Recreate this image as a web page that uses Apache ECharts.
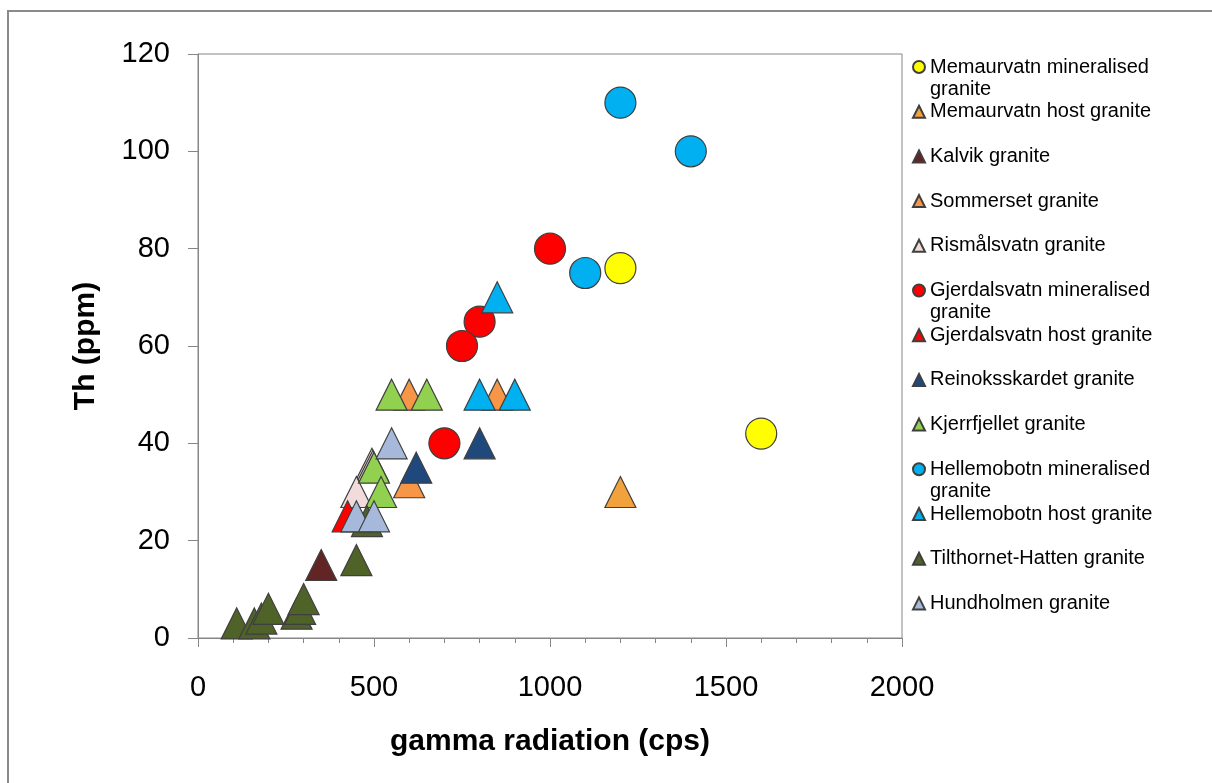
<!DOCTYPE html>
<html>
<head>
<meta charset="utf-8">
<title>Th vs gamma radiation</title>
<script src="https://cdn.jsdelivr.net/npm/echarts@6/dist/echarts.min.js"></script>
<style>
  html, body { margin: 0; padding: 0; background: #ffffff; }
  #chart { width: 1212px; height: 783px; }
</style>
</head>
<body>
<div id="chart"></div>
<script>
// ---- data: [gamma radiation (cps), Th (ppm)] per granite group ----
const groupNames = [
  'Memaurvatn mineralised granite',
  'Memaurvatn host granite',
  'Kalvik granite',
  'Sommerset granite',
  'Rismålsvatn granite',
  'Gjerdalsvatn mineralised granite',
  'Gjerdalsvatn host granite',
  'Reinoksskardet granite',
  'Kjerrfjellet granite',
  'Hellemobotn mineralised granite',
  'Hellemobotn host granite',
  'Tilthornet-Hatten granite',
  'Hundholmen granite'
];
const memaurvatnMineralised = [[1200, 76], [1600, 42]];
const memaurvatnHost = [[1200, 30]];
const kalvik = [[350, 15]];
const sommerset = [[600, 32], [600, 50], [850, 50]];
const rismalsvatn = [[494, 35.8], [497, 35.4], [450, 30]];
const gjerdalsvatnMineralised = [[1000, 80], [800, 65], [750, 60], [700, 40]];
const gjerdalsvatnHost = [[425, 25]];
const reinoksskardet = [[620, 35], [800, 40]];
const kjerrfjellet = [[500, 35], [520, 30], [550, 50], [650, 50]];
const hellemobotnMineralised = [[1200, 110], [1400, 100], [1100, 75]];
const hellemobotnHost = [[850, 70], [800, 50], [900, 50]];
const tilthornetHatten = [[110, 3], [160, 3], [180, 4], [200, 6], [280, 5], [290, 6], [300, 8], [450, 16], [480, 24]];
const hundholmen = [[550, 40], [450, 25], [500, 25]];

const groupData = [
  memaurvatnMineralised, memaurvatnHost, kalvik, sommerset, rismalsvatn,
  gjerdalsvatnMineralised, gjerdalsvatnHost, reinoksskardet, kjerrfjellet,
  hellemobotnMineralised, hellemobotnHost, tilthornetHatten, hundholmen
];

// tick values for both axes
const xTickValues = [0, 500, 1000, 1500, 2000];
const yTickValues = [0, 20, 40, 60, 80, 100, 120];

// ---- marker styles ----
const groupStyle = [
  { symbol: 'circle',   color: '#FFFF00' },
  { symbol: 'triangle', color: '#F2A23C' },
  { symbol: 'triangle', color: '#632523' },
  { symbol: 'triangle', color: '#F79646' },
  { symbol: 'triangle', color: '#F2DCDB' },
  { symbol: 'circle',   color: '#FF0000' },
  { symbol: 'triangle', color: '#FF0000' },
  { symbol: 'triangle', color: '#1F497D' },
  { symbol: 'triangle', color: '#92D050' },
  { symbol: 'circle',   color: '#00B0F0' },
  { symbol: 'triangle', color: '#00B0F0' },
  { symbol: 'triangle', color: '#4F6228' },
  { symbol: 'triangle', color: '#A7B9DA' }
];

const FONT = '"Liberation Sans", Arial, sans-serif';
const AXIS_GRAY = '#868686';

const series = groupNames.map((name, i) => ({
  name: name,
  type: 'scatter',
  data: groupData[i],
  symbol: groupStyle[i].symbol,
  symbolSize: 31,
  itemStyle: { color: groupStyle[i].color, borderColor: '#3f3f3f', borderWidth: 1.2, opacity: 1 },
  emphasis: { disabled: true }
}));

// legend labels: long names wrap after "mineralised"; every label is padded to
// three lines so the marker sits beside the first line of text
function legendLabel(name) {
  if (/ mineralised granite$/.test(name)) {
    return '\n' + name.replace(/ granite$/, '\ngranite');
  }
  return '\n' + name + '\n';
}

const plainNumber = (v) => String(v);

const chart = echarts.init(document.getElementById('chart'), null, { renderer: 'canvas' });
chart.setOption({
  animation: false,
  backgroundColor: '#ffffff',
  graphic: [{
    type: 'rect',
    shape: { x: 8, y: 11, width: 1260, height: 820 },
    style: { fill: 'none', stroke: '#8a8a8a', lineWidth: 2 },
    silent: true
  }],
  grid: {
    left: 198, top: 54, right: 310, bottom: 145,
    show: true, borderColor: AXIS_GRAY, borderWidth: 1, backgroundColor: 'transparent'
  },
  legend: {
    orient: 'vertical',
    left: 912,
    top: 34,
    padding: 0,
    itemGap: -21.3,
    itemWidth: 12,
    itemHeight: 12,
    selectedMode: false,
    data: groupNames,
    formatter: legendLabel,
    textStyle: { fontSize: 20, lineHeight: 22, color: '#000', fontFamily: FONT }
  },
  xAxis: {
    type: 'value',
    min: xTickValues[0],
    max: xTickValues[xTickValues.length - 1],
    interval: xTickValues[1] - xTickValues[0],
    axisLine: { show: true, onZero: false, lineStyle: { color: AXIS_GRAY, width: 1 } },
    axisTick: { show: true, length: 9, lineStyle: { color: AXIS_GRAY } },
    minorTick: { show: true, splitNumber: 5, length: 5, lineStyle: { color: AXIS_GRAY } },
    splitLine: { show: false },
    axisLabel: { fontSize: 29, color: '#000', margin: 35, fontFamily: FONT, formatter: plainNumber },
    name: 'gamma radiation (cps)',
    nameLocation: 'middle',
    nameGap: 89,
    nameTextStyle: { fontSize: 30, fontWeight: 'bold', color: '#000', fontFamily: FONT }
  },
  yAxis: {
    type: 'value',
    min: yTickValues[0],
    max: yTickValues[yTickValues.length - 1],
    interval: yTickValues[1] - yTickValues[0],
    axisLine: { show: true, onZero: false, lineStyle: { color: AXIS_GRAY, width: 1 } },
    axisTick: { show: true, length: 10, lineStyle: { color: AXIS_GRAY } },
    splitLine: { show: false },
    axisLabel: { fontSize: 29, color: '#000', margin: 28, fontFamily: FONT, formatter: plainNumber },
    name: 'Th (ppm)',
    nameLocation: 'middle',
    nameGap: 97,
    nameRotate: 90,
    nameTextStyle: { fontSize: 30, fontWeight: 'bold', color: '#000', fontFamily: FONT }
  },
  series: series
});
</script>
</body>
</html>
